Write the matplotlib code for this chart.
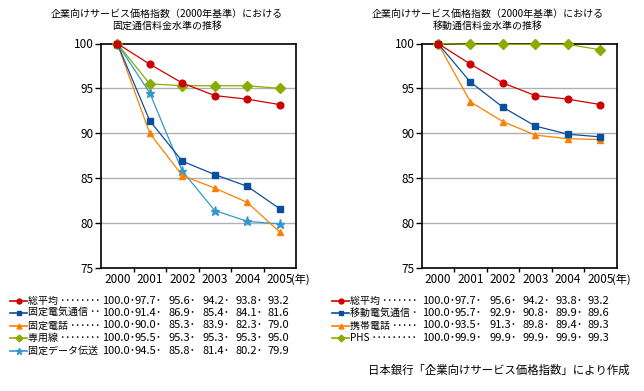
import matplotlib
matplotlib.use('Agg')
import matplotlib.pyplot as plt
from matplotlib.lines import Line2D

plt.rcParams['font.family'] = ['Noto Sans CJK JP', 'DejaVu Sans']

years = ['2000', '2001', '2002', '2003', '2004', '2005']

# 固定通信
fixed_names = ['総平均', '固定電気通信', '固定電話', '専用線', '固定データ伝送']
fixed_avg = [100.0, 97.7, 95.6, 94.2, 93.8, 93.2]
fixed_elec = [100.0, 91.4, 86.9, 85.4, 84.1, 81.6]
fixed_phone = [100.0, 90.0, 85.3, 83.9, 82.3, 79.0]
fixed_lease = [100.0, 95.5, 95.3, 95.3, 95.3, 95.0]
fixed_data = [100.0, 94.5, 85.8, 81.4, 80.2, 79.9]

# 移動通信
mobile_names = ['総平均', '移動電気通信', '携帯電話', 'PHS']
mobile_avg = [100.0, 97.7, 95.6, 94.2, 93.8, 93.2]
mobile_elec = [100.0, 95.7, 92.9, 90.8, 89.9, 89.6]
mobile_phone = [100.0, 93.5, 91.3, 89.8, 89.4, 89.3]
mobile_phs = [100.0, 99.9, 99.9, 99.9, 99.9, 99.3]

red, blue, orange, green, cyan = '#cc0000', '#0a4f9e', '#ff7f00', '#8aac00', '#3399cc'

fixed = [(fixed_avg, red, 'o'), (fixed_elec, blue, 's'), (fixed_phone, orange, '^'),
         (fixed_lease, green, 'D'), (fixed_data, cyan, '*')]
mobile = [(mobile_avg, red, 'o'), (mobile_elec, blue, 's'), (mobile_phone, orange, '^'),
          (mobile_phs, green, 'D')]

fig = plt.figure(figsize=(6.44, 3.91), dpi=100)
W, H = 644, 391


def panel(x0, series, title):
    ax = fig.add_axes([x0 / W, 1 - 268 / H, 195 / W, 224.5 / H])
    xs = [i + 0.5 for i in range(len(years))]
    for vals, c, m in reversed(series):
        ms = {'*': 6.5, 'D': 5, 'o': 4.8}.get(m, 4.3)
        ax.plot(xs, vals, color=c, lw=0.9, marker=m, ms=ms, mec=c, mfc=c, clip_on=False, zorder=3)
    ax.set_xlim(0, 6)
    ax.set_ylim(75, 100)
    ax.set_yticks([75, 80, 85, 90, 95, 100])
    for y in [80, 85, 90, 95]:
        ax.axhline(y, color='#b0b0b0', lw=1, zorder=1)
    ax.set_xticks(range(1, 6))
    ax.set_xticklabels([])
    ax.tick_params(axis='x', length=3, width=1, direction='out')
    ax.tick_params(axis='y', length=4, width=1, direction='out', labelsize=8.5, pad=1)
    for i, yr in enumerate(years):
        ax.text(i + 0.5, 74.4, yr, ha='center', va='top', fontsize=8.5)
    ax.text(5.5 + 0.36, 74.4, '(年)', ha='left', va='top', fontsize=8)
    for s in ax.spines.values():
        s.set_linewidth(1.2)
    fig.text((x0 + 66) / W, 1 - 20 / H, title, ha='center', va='center', fontsize=7.2, linespacing=1.15)
    return ax


panel(101, fixed, '企業向けサービス価格指数（2000年基準）における\n固定通信料金水準の推移')
panel(421.7, mobile, '企業向けサービス価格指数（2000年基準）における\n移動通信料金水準の推移')

num_starts = [0, 32.8, 67, 100.5, 133.5, 165.5]


def legend_rows(x_line, x_num, names, series, leaders):
    ys = [300.7, 313.2, 325.5, 338.2, 350.7]
    for k, (name, (vals, c, m)) in enumerate(zip(names, series)):
        y = 1 - ys[k] / H
        fig.add_artist(Line2D([x_line / W, (x_line + 17) / W], [y, y], color=c, lw=1.2,
                              transform=fig.transFigure))
        fig.add_artist(Line2D([(x_line + 8.5) / W], [y], color=c, marker=m,
                              ms=5 if m == '*' else 3.5, mec=c, mfc=c, transform=fig.transFigure))
        fig.text((x_line + 18) / W, y, name + ' ' + '･' * leaders[k], ha='left', va='center', fontsize=7.2)
        for j, v in enumerate(vals):
            s = f'{v:.1f}' + ('･' if j < len(vals) - 1 else '')
            fig.text((x_num + num_starts[j]) / W, y, s, ha='left', va='center', fontsize=8)


legend_rows(10, 101.7, fixed_names, fixed, [8, 2, 6, 8, 0])
legend_rows(332, 422, mobile_names, mobile, [7, 1, 5, 9])

fig.text(630 / W, 1 - 370 / H, '日本銀行「企業向けサービス価格指数」により作成', ha='right', va='center', fontsize=8.2)

fig.savefig('out.png', dpi=100)
